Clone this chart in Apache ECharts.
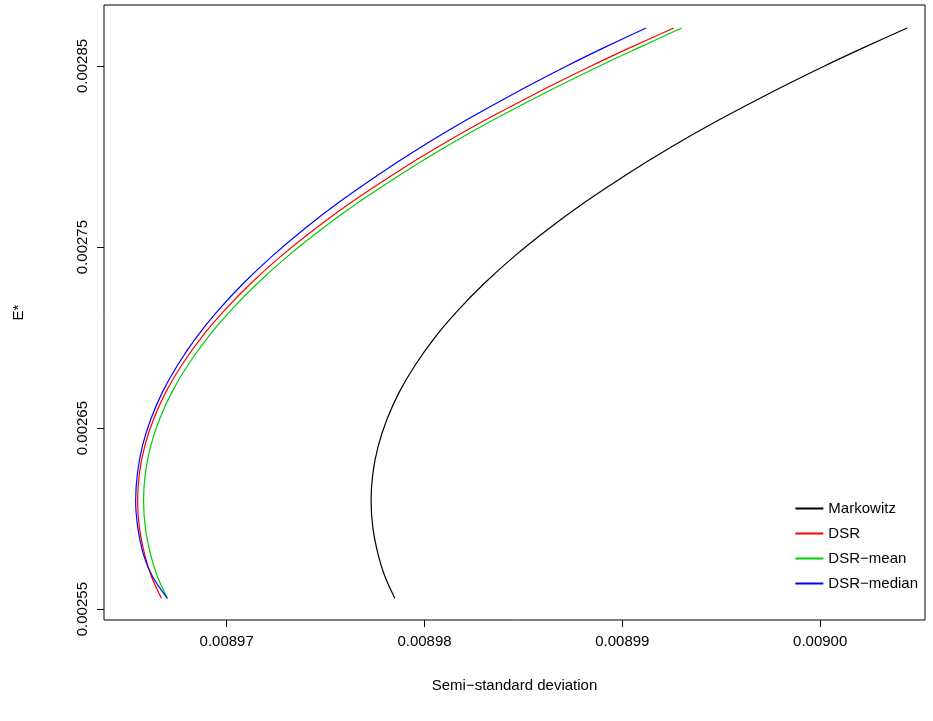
<!DOCTYPE html>
<html>
<head>
<meta charset="utf-8">
<script src="https://cdn.jsdelivr.net/npm/echarts@6/dist/echarts.min.js"></script>
<style>html,body{margin:0;padding:0;background:#fff}#chart{width:933px;height:721px}</style>
</head>
<body>
<div id="chart"></div>
<script>
// expected return levels (shared by all frontiers)
var eStar = [0.002556, 0.002568, 0.00258, 0.002595, 0.00261, 0.002625, 0.00264, 0.002655, 0.00267, 0.002685, 0.00270, 0.002715,
    0.00273, 0.002745, 0.00276, 0.002775, 0.00279, 0.002805, 0.00282, 0.002835, 0.00285, 0.00286, 0.002871];
var markowitz = [0.00897850, 0.00897800, 0.00897766, 0.00897739, 0.00897730, 0.00897739, 0.00897766, 0.00897811, 0.00897873, 0.00897954, 0.00898052, 0.00898169,
    0.00898303, 0.00898455, 0.00898626, 0.00898814, 0.00899020, 0.00899243, 0.00899485, 0.00899745, 0.00900022, 0.00900217, 0.00900440];
var dsr = [0.00896670, 0.00896620, 0.00896586, 0.00896559, 0.00896550, 0.00896559, 0.00896586, 0.00896631, 0.00896693, 0.00896774, 0.00896872, 0.00896989,
    0.00897123, 0.00897275, 0.00897446, 0.00897634, 0.00897840, 0.00898063, 0.00898305, 0.00898565, 0.00898842, 0.00899037, 0.00899260];
var dsrMean = [0.00896700, 0.00896650, 0.00896616, 0.00896589, 0.00896580, 0.00896589, 0.00896616, 0.00896661, 0.00896724, 0.00896805, 0.00896904, 0.00897021,
    0.00897156, 0.00897309, 0.00897481, 0.00897670, 0.00897877, 0.00898101, 0.00898344, 0.00898606, 0.00898885, 0.00899081, 0.00899300];
var dsrMedian = [0.00896700, 0.00896625, 0.00896580, 0.00896551, 0.00896540, 0.00896549, 0.00896574, 0.00896617, 0.00896676, 0.00896753, 0.00896846, 0.00896957,
    0.00897085, 0.00897230, 0.00897392, 0.00897571, 0.00897767, 0.00897979, 0.00898209, 0.00898456, 0.00898719, 0.00898905, 0.00899120];
var xTicks = [0.00897, 0.00898, 0.00899, 0.00900];
var yTicks = [0.00255, 0.00265, 0.00275, 0.00285];

var font = 'Liberation Sans, Arial, sans-serif';
function pairs(xs) { return xs.map(function (x, i) { return [x, eStar[i]]; }); }
function line(name, xs, color) {
    return { name: name, type: 'line', data: pairs(xs), smooth: 0.3, showSymbol: false,
        lineStyle: { color: color, width: 1.2 }, itemStyle: { color: color } };
}

var chart = echarts.init(document.getElementById('chart'));
chart.setOption({
    animation: false,
    grid: { left: 104, right: 8, top: 5, bottom: 101, show: true, borderColor: '#000', borderWidth: 1 },
    xAxis: {
        type: 'value', min: 0.0089638, max: 0.0090053,
        name: 'Semi\u2212standard deviation', nameLocation: 'middle', nameGap: 58,
        nameTextStyle: { fontFamily: font, fontSize: 15, color: '#000' },
        axisLine: { show: false }, splitLine: { show: false },
        axisTick: { show: true, length: 7, lineStyle: { color: '#000' }, customValues: xTicks },
        axisLabel: { customValues: xTicks, margin: 14, fontFamily: font, fontSize: 15, color: '#000',
            formatter: function (v) { return v.toFixed(5); } }
    },
    yAxis: {
        type: 'value', min: 0.002544, max: 0.0028837,
        name: 'E*', nameLocation: 'middle', nameGap: 78, nameRotate: 90,
        nameTextStyle: { fontFamily: font, fontSize: 15, color: '#000' },
        axisLine: { show: false }, splitLine: { show: false },
        axisTick: { show: true, length: 7, lineStyle: { color: '#000' }, customValues: yTicks },
        axisLabel: { customValues: yTicks, rotate: 90, margin: 14, fontFamily: font, fontSize: 15, color: '#000',
            formatter: function (v) { return v.toFixed(5); } }
    },
    legend: {
        orient: 'vertical', right: 10, top: 496, itemWidth: 28, itemHeight: 2, itemGap: 10,
        icon: 'rect', textStyle: { fontFamily: font, fontSize: 15, color: '#000' },
        data: ['Markowitz', 'DSR', 'DSR\u2212mean', 'DSR\u2212median']
    },
    series: [
        line('Markowitz', markowitz, '#000000'),
        line('DSR', dsr, '#ff0000'),
        line('DSR\u2212mean', dsrMean, '#00cd00'),
        line('DSR\u2212median', dsrMedian, '#0000ff')
    ]
});
</script>
</body>
</html>
